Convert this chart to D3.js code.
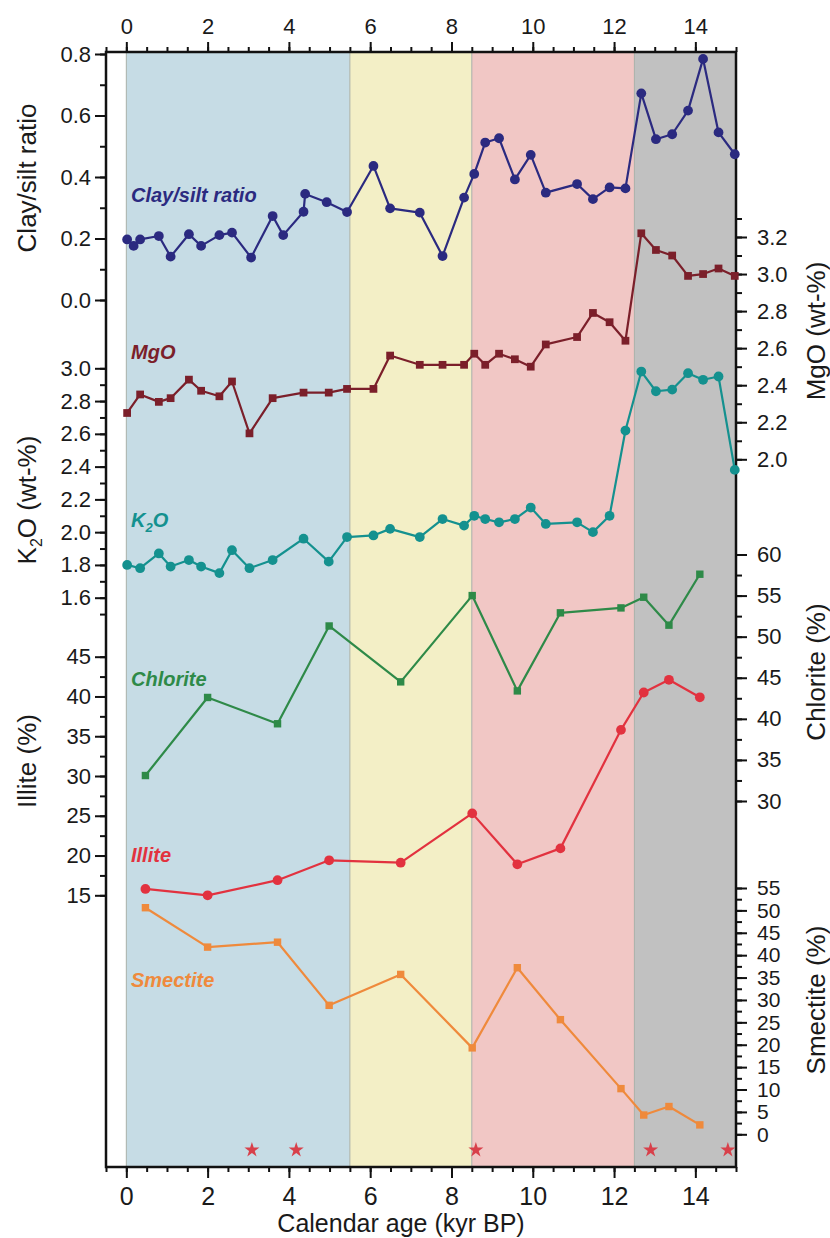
<!DOCTYPE html>
<html>
<head>
<meta charset="utf-8">
<script src="https://cdn.jsdelivr.net/npm/d3@7"></script>
<style>
body { margin: 0; background: #ffffff; }
svg text { font-family: "Liberation Sans", Arial, sans-serif; }
</style>
</head>
<body>
<svg id="vis"></svg>
<script>
/**
 * data (ages in kyr BP)
 */
const clayAge = [0.02, 0.18, 0.34, 0.80, 1.09, 1.54, 1.84, 2.29, 2.60, 3.07, 3.60, 3.86, 4.36, 4.40, 4.93, 5.43, 6.08, 6.49, 7.22, 7.78, 8.31, 8.56, 8.83, 9.17, 9.56, 9.95, 10.32, 11.09, 11.48, 11.89, 12.28, 12.67, 13.03, 13.43, 13.82, 14.19, 14.57, 14.97];
const claySilt = [0.197, 0.176, 0.197, 0.208, 0.141, 0.214, 0.176, 0.211, 0.219, 0.138, 0.273, 0.211, 0.287, 0.345, 0.318, 0.286, 0.436, 0.298, 0.284, 0.143, 0.333, 0.410, 0.512, 0.526, 0.392, 0.472, 0.349, 0.377, 0.328, 0.366, 0.363, 0.672, 0.523, 0.539, 0.616, 0.784, 0.545, 0.474];

const geoAge = [0.02, 0.34, 0.80, 1.09, 1.54, 1.84, 2.29, 2.60, 3.03, 3.60, 4.36, 4.98, 5.43, 6.08, 6.49, 7.22, 7.78, 8.31, 8.56, 8.83, 9.17, 9.56, 9.95, 10.32, 11.09, 11.48, 11.89, 12.28, 12.67, 13.03, 13.43, 13.82, 14.19, 14.57, 14.97];
const mgo = [2.25, 2.35, 2.31, 2.33, 2.43, 2.37, 2.34, 2.42, 2.14, 2.33, 2.36, 2.36, 2.38, 2.38, 2.56, 2.51, 2.51, 2.51, 2.57, 2.51, 2.57, 2.54, 2.50, 2.62, 2.66, 2.79, 2.74, 2.64, 3.22, 3.13, 3.10, 2.99, 3.00, 3.03, 2.99];
const k2o = [1.80, 1.78, 1.87, 1.79, 1.83, 1.79, 1.75, 1.89, 1.78, 1.83, 1.96, 1.82, 1.97, 1.98, 2.02, 1.97, 2.08, 2.04, 2.10, 2.08, 2.06, 2.08, 2.15, 2.05, 2.06, 2.00, 2.10, 2.62, 2.98, 2.86, 2.87, 2.97, 2.93, 2.95, 2.38];

const mineralAge = [0.47, 2.00, 3.72, 4.99, 6.75, 8.51, 9.62, 10.68, 12.17, 12.73, 13.35, 14.11];
const chlorite = [33.1, 42.6, 39.4, 51.3, 44.5, 55.0, 43.4, 52.9, 53.5, 54.8, 51.4, 57.6];
const illite = [15.8, 15.0, 16.9, 19.4, 19.1, 25.3, 18.9, 20.9, 35.8, 40.5, 42.1, 39.9];
const smectite = [50.6, 41.8, 42.9, 28.8, 35.7, 19.3, 37.2, 25.6, 10.2, 4.3, 6.2, 2.1];

const starAge = [3.09, 4.18, 8.60, 12.90, 14.80];

// climate periods (kyr BP)
const zoneStart = [0, 5.5, 8.5, 12.5];
const zoneEnd = [5.5, 8.5, 12.5, 15];
const zoneColor = ["#c6dce5", "#f3efc6", "#f1c7c5", "#c1c1c1"];

// tick labels
const ageTicks = [0, 2, 4, 6, 8, 10, 12, 14];
const clayTicks = [0.0, 0.2, 0.4, 0.6, 0.8];
const k2oTicks = [1.6, 1.8, 2.0, 2.2, 2.4, 2.6, 2.8, 3.0];
const illiteTicks = [15, 20, 25, 30, 35, 40, 45];
const mgoTicks = [2.0, 2.2, 2.4, 2.6, 2.8, 3.0, 3.2];
const chloriteTicks = [30, 35, 40, 45, 50, 55, 60];
const smectiteTicks = [0, 5, 10, 15, 20, 25, 30, 35, 40, 45, 50, 55];

/**
 * magic numbers for the frame
 */
const FRAME = {top: 52, right: 736, bottom: 1167, left: 106};

window.onload = function(){
    setup();
};

let svg;

function drawYAxis(scale, side, major, minor, fmt, fsize){
    let axisFn = side === "left" ? d3.axisLeft : d3.axisRight;
    let xPos = side === "left" ? FRAME.left : FRAME.right;

    let gMinor = svg.append("g")
        .attr("transform", "translate(" + xPos + ",0)")
        .call(axisFn(scale).tickValues(minor).tickSize(6).tickFormat(""));
    gMinor.select(".domain").remove();

    let gMajor = svg.append("g")
        .attr("transform", "translate(" + xPos + ",0)")
        .call(axisFn(scale).tickValues(major).tickSize(11)
            .tickPadding(side === "left" ? 4 : 10).tickFormat(d3.format(fmt)));
    gMajor.select(".domain").remove();
    gMajor.selectAll("text").attr("font-size", fsize || 22).attr("fill", "#1a1a1a")
        .attr("font-family", "'Liberation Sans', Arial, sans-serif");

    svg.selectAll("g .tick line").attr("stroke", "#111").attr("stroke-width", 2);
}

function drawSeries(ages, vals, yScale, color, shape, size){
    let pts = ages.map(function(a, i){ return [x(a), yScale(vals[i])]; });
    let line = d3.line();
    svg.append("path")
        .attr("d", line(pts))
        .attr("fill", "none")
        .attr("stroke", color)
        .attr("stroke-width", 2.2)
        .attr("stroke-linejoin", "round");

    let sym = d3.symbol().type(shape).size(size);
    svg.append("g").selectAll("path")
        .data(pts)
        .enter()
        .append("path")
        .attr("d", sym)
        .attr("transform", function(d){ return "translate(" + d[0] + "," + d[1] + ")"; })
        .attr("fill", color);
}

function seriesLabel(txt, ypos, color){
    return svg.append("text")
        .attr("x", 131)
        .attr("y", ypos)
        .attr("fill", color)
        .attr("font-size", 20)
        .attr("font-weight", "bold")
        .attr("font-style", "italic")
        .text(txt);
}

function axisTitle(xpos, ypos){
    return svg.append("text")
        .attr("transform", "translate(" + xpos + "," + ypos + ") rotate(-90)")
        .attr("text-anchor", "middle")
        .attr("font-size", 26)
        .attr("fill", "#1a1a1a");
}

var x, yClay, yMgo, yK2o, yChl, yIll, ySme;

function setup(){
    svg = d3.select("#vis")
        .attr("width", 830)
        .attr("height", 1238);

    x = d3.scaleLinear().domain([-0.5, 15]).range([FRAME.left, FRAME.right]);
    yClay = d3.scaleLinear().domain([0, 0.8]).range([300, 54]);
    yMgo = d3.scaleLinear().domain([2.0, 3.2]).range([459.3, 237]);
    yK2o = d3.scaleLinear().domain([1.6, 3.0]).range([597.7, 368.3]);
    yChl = d3.scaleLinear().domain([30, 60]).range([801, 554.5]);
    yIll = d3.scaleLinear().domain([15, 45]).range([895.3, 656.7]);
    ySme = d3.scaleLinear().domain([0, 55]).range([1134.3, 888]);

    // background periods
    svg.append("g").selectAll("rect")
        .data(zoneStart)
        .enter()
        .append("rect")
        .attr("x", function(d){ return x(d); })
        .attr("y", FRAME.top)
        .attr("width", function(d, i){ return x(zoneEnd[i]) - x(d); })
        .attr("height", FRAME.bottom - FRAME.top)
        .attr("fill", function(d, i){ return zoneColor[i]; });
    svg.append("g").selectAll("line")
        .data(zoneStart)
        .enter()
        .append("line")
        .attr("x1", function(d){ return x(d); })
        .attr("x2", function(d){ return x(d); })
        .attr("y1", FRAME.top)
        .attr("y2", FRAME.bottom)
        .attr("stroke", "#a9b0a8")
        .attr("stroke-width", 1);

    // top and bottom age axes
    let ageMinor = d3.range(-0.5, 15.01, 0.5);
    let tMin = svg.append("g").attr("transform", "translate(0," + FRAME.top + ")")
        .call(d3.axisTop(x).tickValues(ageMinor).tickSize(5).tickFormat(""));
    tMin.select(".domain").remove();
    let tMaj = svg.append("g").attr("transform", "translate(0," + FRAME.top + ")")
        .call(d3.axisTop(x).tickValues(ageTicks).tickSize(10).tickPadding(8).tickFormat(d3.format("d")));
    tMaj.select(".domain").remove();
    tMaj.selectAll("text").attr("font-size", 22).attr("fill", "#1a1a1a")
        .attr("font-family", "'Liberation Sans', Arial, sans-serif");

    let bMin = svg.append("g").attr("transform", "translate(0," + FRAME.bottom + ")")
        .call(d3.axisBottom(x).tickValues(ageMinor).tickSize(5).tickFormat(""));
    bMin.select(".domain").remove();
    let bMaj = svg.append("g").attr("transform", "translate(0," + FRAME.bottom + ")")
        .call(d3.axisBottom(x).tickValues(ageTicks).tickSize(11).tickPadding(9).tickFormat(d3.format("d")));
    bMaj.select(".domain").remove();
    bMaj.selectAll("text").attr("font-size", 25).attr("fill", "#1a1a1a")
        .attr("font-family", "'Liberation Sans', Arial, sans-serif");

    // y axes
    drawYAxis(yClay, "left", clayTicks, d3.range(0, 0.801, 0.1), ".1f");
    drawYAxis(yK2o, "left", k2oTicks, d3.range(1.5, 3.001, 0.1), ".1f");
    drawYAxis(yIll, "left", illiteTicks, d3.range(15, 45.01, 2.5), "d");
    drawYAxis(yMgo, "right", mgoTicks, d3.range(2.0, 3.301, 0.1), ".1f");
    drawYAxis(yChl, "right", chloriteTicks, d3.range(30, 60.01, 2.5), "d");
    drawYAxis(ySme, "right", smectiteTicks, d3.range(0, 55.01, 2.5), "d", 21);

    // frame
    svg.append("rect")
        .attr("x", FRAME.left)
        .attr("y", FRAME.top)
        .attr("width", FRAME.right - FRAME.left)
        .attr("height", FRAME.bottom - FRAME.top)
        .attr("fill", "none")
        .attr("stroke", "#111")
        .attr("stroke-width", 2.5);

    // series
    drawSeries(clayAge, claySilt, yClay, "#2b2a80", d3.symbolCircle, 75);
    drawSeries(geoAge, mgo, yMgo, "#7b1f2a", d3.symbolSquare, 60);
    drawSeries(geoAge, k2o, yK2o, "#14918f", d3.symbolCircle, 75);
    drawSeries(mineralAge, chlorite, yChl, "#2e8a48", d3.symbolSquare, 55);
    drawSeries(mineralAge, illite, yIll, "#e2323f", d3.symbolCircle, 75);
    drawSeries(mineralAge, smectite, ySme, "#ef8a3c", d3.symbolSquare, 55);

    // stars
    svg.append("g").selectAll("path")
        .data(starAge)
        .enter()
        .append("path")
        .attr("d", d3.symbol().type(d3.symbolStar).size(70))
        .attr("transform", function(d){ return "translate(" + x(d) + ",1150)"; })
        .attr("fill", "#d8404a");

    // series labels
    seriesLabel("Clay/silt ratio", 202, "#2b2a80");
    seriesLabel("MgO", 359, "#7b1f2a");
    let kl = seriesLabel("K", 527, "#14918f");
    kl.append("tspan").attr("font-size", 13).attr("dy", 5).text("2");
    kl.append("tspan").attr("dy", -5).text("O");
    seriesLabel("Chlorite", 686, "#2e8a48");
    seriesLabel("Illite", 862, "#e2323f");
    seriesLabel("Smectite", 987, "#ef8a3c");

    // axis titles
    axisTitle(36, 178).text("Clay/silt ratio");
    let kt = axisTitle(36, 500).text("K");
    kt.append("tspan").attr("font-size", 16).attr("dy", 6).text("2");
    kt.append("tspan").attr("dy", -6).text("O (wt-%)");
    axisTitle(36, 761).text("Illite (%)");
    axisTitle(825, 331).text("MgO (wt-%)");
    axisTitle(825, 672).text("Chlorite (%)");
    axisTitle(825, 1000).text("Smectite (%)");

    svg.append("text")
        .attr("x", 401)
        .attr("y", 1232)
        .attr("text-anchor", "middle")
        .attr("font-size", 25)
        .attr("fill", "#1a1a1a")
        .text("Calendar age (kyr BP)");
}
</script>
</body>
</html>
